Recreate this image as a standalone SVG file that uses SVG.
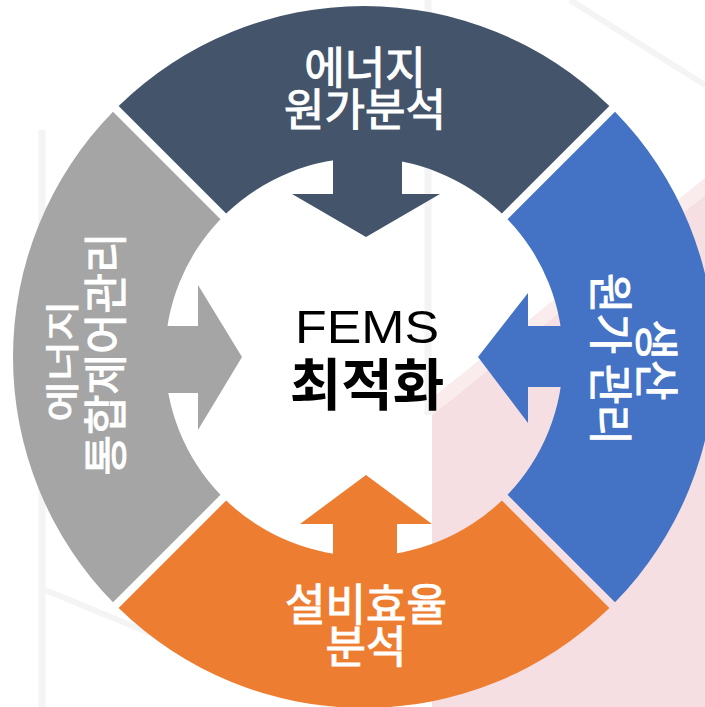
<svg xmlns="http://www.w3.org/2000/svg" width="705" height="707" viewBox="0 0 705 707">
  <style>
    .lbl { font-family: "Noto Sans CJK KR", "Noto Sans", sans-serif; fill: #ffffff; stroke: #ffffff; stroke-width: 1.1; text-anchor: middle; }
    .ctr { text-anchor: middle; fill: #000000; }
    .bgline { stroke: #f4f4f4; fill: none; }
  </style>
  <g id="background">
    <rect x="0" y="0" width="705" height="707" fill="#ffffff"/>
    <polygon points="432,415 705,195 705,707 432,707" fill="#f6dfe2"/>
    <polygon points="432,415 705,195 705,178 432,398" fill="#faecec"/>
    <line class="bgline" x1="42" y1="130" x2="42" y2="707" stroke-width="7"/>
    <line class="bgline" x1="428" y1="0" x2="428" y2="415" stroke-width="7"/>
    <line class="bgline" x1="570" y1="0" x2="705" y2="85" stroke-width="6"/>
    <line class="bgline" x1="45" y1="590" x2="330" y2="707" stroke-width="6"/>
  </g>
  <g id="node-energy-cost">
    <path d="M 118.65 105.99 A 351 351 0 0 1 609.35 105.99 L 501.86 213.48 A 199 199 0 0 0 226.14 213.48 Z" fill="#44546a"/>
    <polygon points="333,150 402,150 402,194 440,194 366,237 292,194 333,194" fill="#44546a"/>
    <text class="lbl" x="365" y="84" font-size="44">에너지</text>
    <text class="lbl" x="365" y="126" font-size="44">원가분석</text>
  </g>
  <g id="node-production-cost">
    <path d="M 615.01 111.65 A 351 351 0 0 1 615.01 602.35 L 507.52 494.86 A 199 199 0 0 0 507.52 219.14 Z" fill="#4472c4"/>
    <polygon points="580,326 580,387 528,387 528,423 478,357 528,293 528,326" fill="#4472c4"/>
    <text class="lbl" font-size="44" transform="translate(640,360) rotate(90)">생산</text>
    <text class="lbl" font-size="44" transform="translate(594,359) rotate(90)">원가 관리</text>
  </g>
  <g id="node-equipment-efficiency">
    <path d="M 609.35 608.01 A 351 351 0 0 1 118.65 608.01 L 226.14 500.52 A 199 199 0 0 0 501.86 500.52 Z" fill="#ed7d31"/>
    <polygon points="333,570 397,570 397,524 432,524 366,475 300,524 333,524" fill="#ed7d31"/>
    <text class="lbl" x="366" y="621" font-size="44">설비효율</text>
    <text class="lbl" x="366" y="663" font-size="44">분석</text>
  </g>
  <g id="node-integrated-control">
    <path d="M 112.99 602.35 A 351 351 0 0 1 112.99 111.65 L 220.48 219.14 A 199 199 0 0 0 220.48 494.86 Z" fill="#a5a5a5"/>
    <polygon points="150,326 150,393 198,393 198,430 242,357 198,285 198,326" fill="#a5a5a5"/>
    <text class="lbl" font-size="44" transform="translate(75,361) rotate(-90) scale(1,0.78)">에너지</text>
    <text class="lbl" font-size="44" transform="translate(122,354) rotate(-90)">통합제어관리</text>
  </g>
  <g id="node-center">
    <text class="ctr" x="367" y="343" font-family="'Liberation Sans', Arial, sans-serif" font-size="46" textLength="144" lengthAdjust="spacingAndGlyphs">FEMS</text>
    <text class="ctr" x="367" y="405" font-family="'Noto Sans CJK KR', sans-serif" font-size="56" font-weight="bold">최적화</text>
  </g>
  <g id="connectors"></g>
</svg>
